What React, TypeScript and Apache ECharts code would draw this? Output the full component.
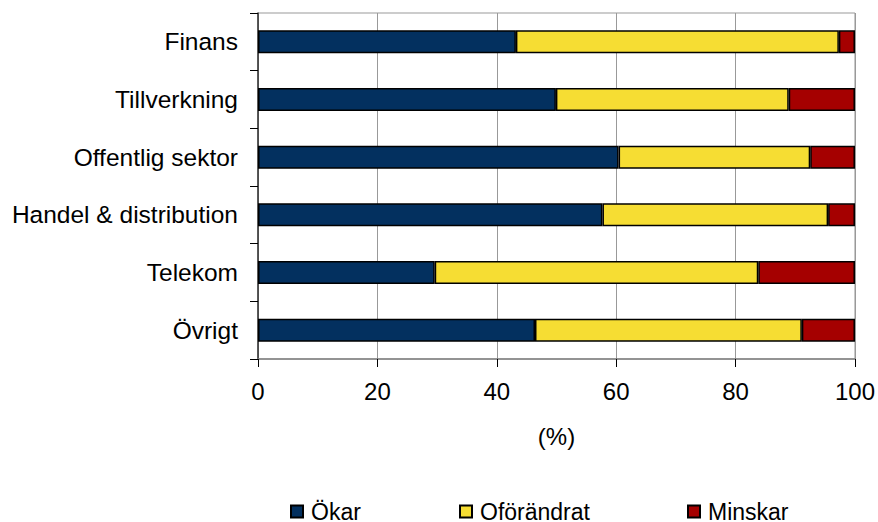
import React, { useEffect, useRef } from "react";
import * as echarts from "echarts";

const categories = ["Finans", "Tillverkning", "Offentlig sektor", "Handel & distribution", "Telekom", "Övrigt"];
const okar = [43.2, 49.9, 60.4, 57.7, 29.6, 46.4];
const oforandrat = [54.1, 39.0, 32.1, 37.8, 54.2, 44.7];
const minskar = [2.7, 11.1, 7.5, 4.5, 16.2, 8.9];
const seriesNames = ["Ökar", "Oförändrat", "Minskar"];
const colors = ["#03305F", "#F6DD33", "#A50000"];

export default function App() {
  const ref = useRef<HTMLDivElement>(null);
  useEffect(() => {
    document.body.style.margin = "0";
    document.body.style.overflow = "hidden";
    if (!ref.current) return;
    const chart = echarts.init(ref.current, undefined, { renderer: "svg" });
    const font = "'Liberation Sans', Arial, sans-serif";
    const data = [okar, oforandrat, minskar];
    const legendLefts = [290, 459, 687];
    chart.setOption({
      animation: false,
      grid: {
        left: 258,
        top: 13,
        width: 597,
        height: 346,
        show: true,
        borderColor: "#999",
        borderWidth: 1,
        containLabel: false,
      },
      legend: seriesNames.map((n, i) => ({
        data: [n],
        left: legendLefts[i],
        top: 500,
        padding: 0,
        itemWidth: 12,
        itemHeight: 12,
        itemGap: 0,
        textStyle: { fontFamily: font, fontSize: 23, color: "#000", padding: [0, 0, 0, 3] },
        icon: "rect",
        selectedMode: false,
      })),
      xAxis: {
        type: "value",
        min: 0,
        max: 100,
        interval: 20,
        axisLine: { show: true, lineStyle: { color: "#808080", width: 1.5 } },
        axisTick: { show: true, length: 8, lineStyle: { color: "#000" } },
        axisLabel: { fontFamily: font, fontSize: 24, color: "#000", margin: 20 },
        splitLine: { show: true, lineStyle: { color: "#999", width: 1 } },
        name: "(%)",
        nameLocation: "middle",
        nameGap: 65,
        nameTextStyle: { fontFamily: font, fontSize: 24, color: "#000" },
      },
      yAxis: {
        type: "category",
        data: categories,
        inverse: true,
        axisLine: { show: true, lineStyle: { color: "#333", width: 1.5 } },
        axisTick: { show: true, length: 8, lineStyle: { color: "#000" } },
        axisLabel: { fontFamily: font, fontSize: 24.5, color: "#000", margin: 20 },
        splitLine: { show: false },
      },
      series: seriesNames.map((n, i) => ({
        name: n,
        type: "bar",
        stack: "total",
        data: data[i],
        barWidth: 23,
        itemStyle: { color: colors[i], borderColor: "#000", borderWidth: 1.5 },
      })),
    });
    return () => chart.dispose();
  }, []);
  return <div ref={ref} style={{ width: 878, height: 522 }} />;
}
